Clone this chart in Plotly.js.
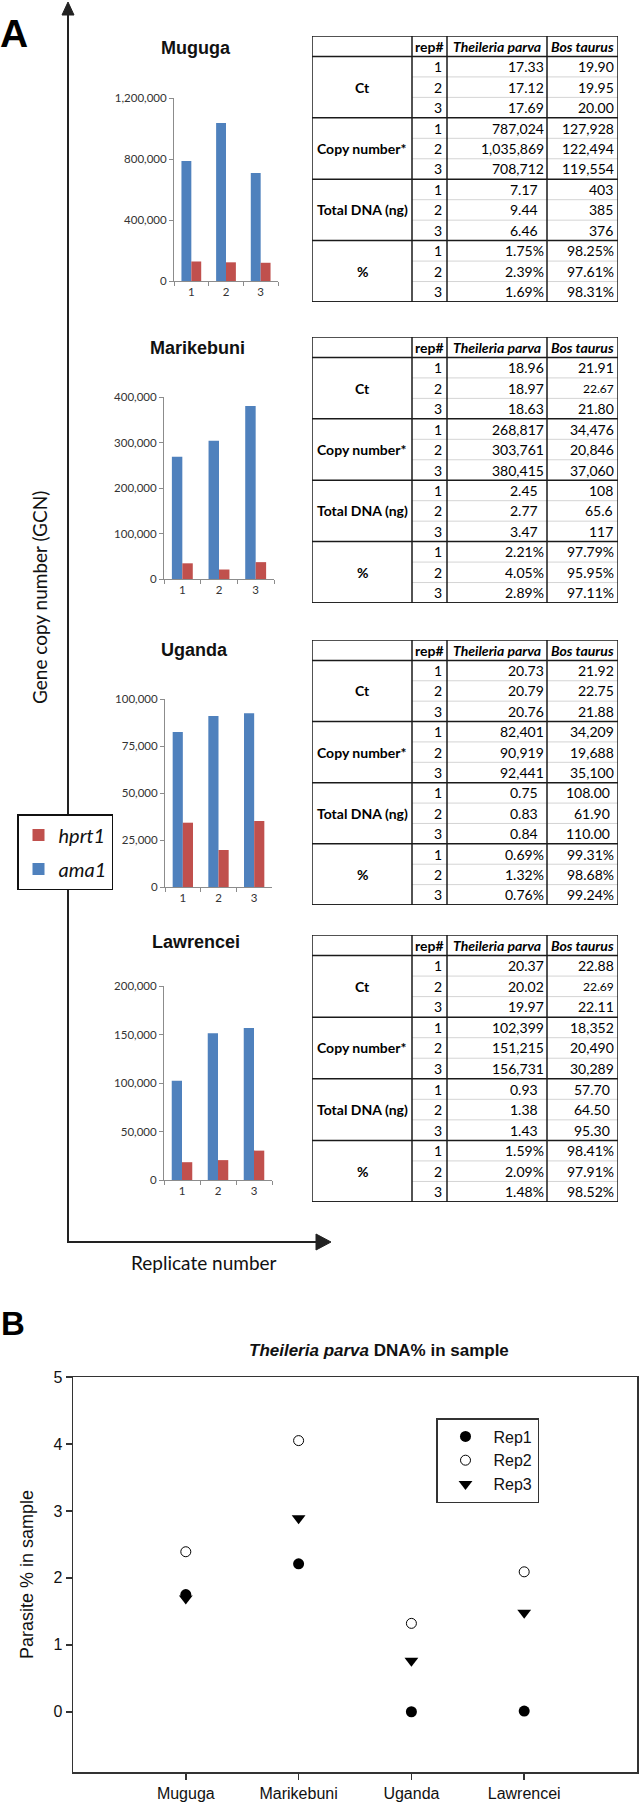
<!DOCTYPE html>
<html><head><meta charset="utf-8">
<script src="https://cdn.plot.ly/plotly-3.0.1.min.js"></script>
<style>html,body{margin:0;padding:0;background:#fff}#chart{width:639px;height:1803px}</style>
</head><body><div id="chart"></div>
<script>
// ---------------- DATA ----------------
const sites = ['Muguga', 'Marikebuni', 'Uganda', 'Lawrencei'];
const replicates = ['1', '2', '3'];

const ama1Muguga = [787024, 1035869, 708712];
const hprt1Muguga = [127928, 122494, 119554];
const ama1Marikebuni = [268817, 303761, 380415];
const hprt1Marikebuni = [34476, 20846, 37060];
const ama1Uganda = [82401, 90919, 92441];
const hprt1Uganda = [34209, 19688, 35100];
const ama1Lawrencei = [102399, 151215, 156731];
const hprt1Lawrencei = [18352, 20490, 30289];

const yTicksMuguga = [0, 400000, 800000, 1200000];
const yTicksMarikebuni = [0, 100000, 200000, 300000, 400000];
const yTicksUganda = [0, 25000, 50000, 75000, 100000];
const yTicksLawrencei = [0, 50000, 100000, 150000, 200000];

const tableGroups = ['Ct', 'Copy number*', 'Total DNA (ng)', '%'];
const tableHeader = ['rep#', '<i>Theileria parva</i>', '<i>Bos taurus</i>'];

const ctTpMuguga = ['17.33', '17.12', '17.69'];
const ctBtMuguga = ['19.90', '19.95', '20.00'];
const dnaTpMuguga = ['7.17', '9.44', '6.46'];
const dnaBtMuguga = ['403', '385', '376'];
const pctTpMuguga = ['1.75%', '2.39%', '1.69%'];
const pctBtMuguga = ['98.25%', '97.61%', '98.31%'];

const ctTpMarikebuni = ['18.96', '18.97', '18.63'];
const ctBtMarikebuni = ['21.91', '22.67', '21.80'];
const dnaTpMarikebuni = ['2.45', '2.77', '3.47'];
const dnaBtMarikebuni = ['108', '65.6', '117'];
const pctTpMarikebuni = ['2.21%', '4.05%', '2.89%'];
const pctBtMarikebuni = ['97.79%', '95.95%', '97.11%'];

const ctTpUganda = ['20.73', '20.79', '20.76'];
const ctBtUganda = ['21.92', '22.75', '21.88'];
const dnaTpUganda = ['0.75', '0.83', '0.84'];
const dnaBtUganda = ['108.00', '61.90', '110.00'];
const pctTpUganda = ['0.69%', '1.32%', '0.76%'];
const pctBtUganda = ['99.31%', '98.68%', '99.24%'];

const ctTpLawrencei = ['20.37', '20.02', '19.97'];
const ctBtLawrencei = ['22.88', '22.69', '22.11'];
const dnaTpLawrencei = ['0.93', '1.38', '1.43'];
const dnaBtLawrencei = ['57.70', '64.50', '95.30'];
const pctTpLawrencei = ['1.59%', '2.09%', '1.48%'];
const pctBtLawrencei = ['98.41%', '97.91%', '98.52%'];

// Panel B (values as plotted)
const rep1Pct = [1.75, 2.21, 0.0, 0.01];
const rep2Pct = [2.39, 4.05, 1.32, 2.09];
const rep3Pct = [1.69, 2.89, 0.76, 1.48];
const bTicks = [0, 1, 2, 3, 4, 5];

// ---------------- LAYOUT HELPERS ----------------
const W = 639, H = 1803;
const fx = p => p / W;
const fy = p => 1 - p / H;
const FONT_CAL = 'Lato, "Open Sans", sans-serif';
const FONT_ARIAL = '"Liberation Sans", Arial, sans-serif';
const BLUE = '#4F81BD', RED = '#C0504D';
const fmtInt = n => n.toLocaleString('en-US');

const traces = [];
const layout = {
  width: W, height: H,
  margin: {l: 0, r: 0, t: 0, b: 0},
  paper_bgcolor: '#ffffff', plot_bgcolor: 'rgba(0,0,0,0)',
  barmode: 'group', bargap: 0.43, bargroupgap: 0,
  font: {family: FONT_ARIAL, color: '#000'},
  annotations: [], shapes: [],
  showlegend: true,
  legend: {
    x: fx(436), y: fy(1418), xanchor: 'left', yanchor: 'top',
    bordercolor: '#333', borderwidth: 1.5, bgcolor: '#fff',
    font: {family: FONT_ARIAL, size: 16, color: '#111'},
    itemwidth: 46, tracegroupgap: 0
  },
  legend2: {
    x: fx(17), y: fy(814), xanchor: 'left', yanchor: 'top',
    bordercolor: '#111', borderwidth: 1.5, bgcolor: '#fff',
    font: {family: FONT_CAL, size: 20, color: '#111'},
    traceorder: 'grouped', tracegroupgap: 5, itemwidth: 30
  }
};

function ann(o) {
  layout.annotations.push(Object.assign({showarrow: false, xref: 'paper', yref: 'paper'}, o));
}

// ---------------- PANEL A: bar charts ----------------
const barPanels = [
  {title: sites[0], ama: ama1Muguga, hprt: hprt1Muguga, ticks: yTicksMuguga, left: 174, right: 278, top: 98, bottom: 281, tx: 196, ty: 48},
  {title: sites[1], ama: ama1Marikebuni, hprt: hprt1Marikebuni, ticks: yTicksMarikebuni, left: 164, right: 274, top: 397, bottom: 579, tx: 197, ty: 348},
  {title: sites[2], ama: ama1Uganda, hprt: hprt1Uganda, ticks: yTicksUganda, left: 165, right: 272, top: 699, bottom: 887, tx: 194, ty: 650},
  {title: sites[3], ama: ama1Lawrencei, hprt: hprt1Lawrencei, ticks: yTicksLawrencei, left: 164, right: 272, top: 986, bottom: 1180, tx: 196, ty: 942}
];

barPanels.forEach((p, i) => {
  const s = i === 0 ? '' : String(i + 1);
  traces.push({type: 'bar', x: replicates, y: p.ama, xaxis: 'x' + s, yaxis: 'y' + s,
    name: '<i>ama1</i>', marker: {color: BLUE}, legend: 'legend2', legendgroup: 'ama1', legendrank: 2,
    showlegend: i === 0, hoverinfo: 'skip'});
  traces.push({type: 'bar', x: replicates, y: p.hprt, xaxis: 'x' + s, yaxis: 'y' + s,
    name: '<i>hprt1</i>', marker: {color: RED}, legend: 'legend2', legendgroup: 'hprt1', legendrank: 1,
    showlegend: i === 0, hoverinfo: 'skip'});
  layout['xaxis' + s] = {
    domain: [fx(p.left), fx(p.right)], anchor: 'y' + s, type: 'category', range: [-0.5, 2.5],
    showline: true, linecolor: '#8c8c8c', linewidth: 1, ticks: 'outside', tickson: 'boundaries',
    ticklen: 4, tickcolor: '#8c8c8c', tickfont: {family: FONT_CAL, size: 11.5, color: '#333'},
    showgrid: false, zeroline: false, fixedrange: true
  };
  layout['yaxis' + s] = {
    domain: [fy(p.bottom), fy(p.top)], anchor: 'x' + s, range: [0, p.ticks[p.ticks.length - 1]],
    tickvals: p.ticks, tickformat: ',d', showline: true, linecolor: '#8c8c8c', linewidth: 1,
    ticks: 'outside', ticklen: 4, tickcolor: '#8c8c8c',
    tickfont: {family: FONT_CAL, size: 11.5, color: '#333'},
    showgrid: false, zeroline: false, fixedrange: true
  };
  ann({text: '<b>' + p.title + '</b>', x: fx(p.tx), y: fy(p.ty), xanchor: 'center', yanchor: 'middle',
    font: {family: FONT_ARIAL, size: 18, color: '#111'}});
});

// ---------------- PANEL A: tables ----------------
// smallBt: Bos taurus cells (group index, replicate index) printed in a smaller type in the original
const tableSpecs = [
  {top: 36, bottom: 302, groups: [[ctTpMuguga, ctBtMuguga], [ama1Muguga.map(fmtInt), hprt1Muguga.map(fmtInt)], [dnaTpMuguga, dnaBtMuguga], [pctTpMuguga, pctBtMuguga]], dnaPadBt: 3, smallBt: []},
  {top: 337, bottom: 603, groups: [[ctTpMarikebuni, ctBtMarikebuni], [ama1Marikebuni.map(fmtInt), hprt1Marikebuni.map(fmtInt)], [dnaTpMarikebuni, dnaBtMarikebuni], [pctTpMarikebuni, pctBtMarikebuni]], dnaPadBt: 3, smallBt: ['0-1']},
  {top: 640, bottom: 905, groups: [[ctTpUganda, ctBtUganda], [ama1Uganda.map(fmtInt), hprt1Uganda.map(fmtInt)], [dnaTpUganda, dnaBtUganda], [pctTpUganda, pctBtUganda]], dnaPadBt: 6, smallBt: []},
  {top: 935, bottom: 1202, groups: [[ctTpLawrencei, ctBtLawrencei], [ama1Lawrencei.map(fmtInt), hprt1Lawrencei.map(fmtInt)], [dnaTpLawrencei, dnaBtLawrencei], [pctTpLawrencei, pctBtLawrencei]], dnaPadBt: 6, smallBt: ['0-1']}
];
const colEdges = [0, 100, 135, 235, 306];
const TABLE_LEFT = 312, TABLE_RIGHT = 618;
const nRows = 1 + tableGroups.length * replicates.length;

tableSpecs.forEach((t, k) => {
  const n = String(5 + k);
  const xr = 'x' + n, yr = 'y' + n;
  layout['xaxis' + n] = {domain: [fx(TABLE_LEFT), fx(TABLE_RIGHT)], range: [0, colEdges[4]], visible: false, anchor: yr, fixedrange: true};
  layout['yaxis' + n] = {domain: [fy(t.bottom), fy(t.top)], range: [nRows, 0], visible: false, anchor: xr, fixedrange: true};
  for (let r = 1; r < nRows; r++) {
    if ((r - 1) % 3 !== 0) {
      layout.shapes.push({type: 'line', xref: xr, yref: yr, x0: colEdges[1], x1: colEdges[4], y0: r, y1: r,
        line: {color: '#d4d4d4', width: 1}});
    }
  }
  for (let g = 0; g <= tableGroups.length; g++) {
    const r = 1 + g * 3;
    layout.shapes.push({type: 'line', xref: xr, yref: yr, x0: 0, x1: colEdges[4], y0: r, y1: r,
      line: {color: '#1a1a1a', width: 1.5}});
  }
  for (let c = 1; c < 4; c++) {
    layout.shapes.push({type: 'line', xref: xr, yref: yr, x0: colEdges[c], x1: colEdges[c], y0: 0, y1: nRows,
      line: {color: '#1a1a1a', width: 1.5}});
  }
  layout.shapes.push({type: 'rect', xref: xr, yref: yr, x0: 0, x1: colEdges[4], y0: 0, y1: nRows,
    line: {color: '#1a1a1a', width: 1.5}});
  tableHeader.forEach((h, c) => {
    layout.annotations.push({xref: xr, yref: yr, x: (colEdges[c + 1] + colEdges[c + 2]) / 2, y: 0.5,
      text: '<b>' + h + '</b>', showarrow: false, xanchor: 'center', yanchor: 'middle',
      font: {family: FONT_CAL, size: 14, color: '#000'}});
  });
  tableGroups.forEach((g, gi) => {
    layout.annotations.push({xref: xr, yref: yr, x: colEdges[1] / 2, y: 1 + gi * 3 + 1.5,
      text: '<b>' + g + '</b>', showarrow: false, xanchor: 'center', yanchor: 'middle',
      font: {family: FONT_CAL, size: 14, color: '#000'}});
    replicates.forEach((rep, ri) => {
      const y = 1 + gi * 3 + ri + 0.5;
      layout.annotations.push({xref: xr, yref: yr, x: colEdges[2] - 3, y: y, text: rep,
        showarrow: false, xanchor: 'right', yanchor: 'middle', font: {family: FONT_CAL, size: 14, color: '#000'}});
      const padTp = gi === 2 ? 7 : 1.5;
      const padBt = gi === 2 ? t.dnaPadBt : 2;
      const btSize = t.smallBt.includes(gi + '-' + ri) ? 12 : 14;
      layout.annotations.push({xref: xr, yref: yr, x: colEdges[3] - padTp, y: y, text: t.groups[gi][0][ri],
        showarrow: false, xanchor: 'right', yanchor: 'middle', font: {family: FONT_CAL, size: 14, color: '#000'}});
      layout.annotations.push({xref: xr, yref: yr, x: colEdges[4] - padBt, y: y, text: t.groups[gi][1][ri],
        showarrow: false, xanchor: 'right', yanchor: 'middle', font: {family: FONT_CAL, size: btSize, color: '#000'}});
    });
  });
});

// ---------------- PANEL A: frame arrows & labels ----------------
const AX = 68, AY = 1242, ATOP = 2, ARIGHT = 331;
layout.shapes.push({type: 'line', xref: 'paper', yref: 'paper', x0: fx(AX), x1: fx(AX), y0: fy(ATOP + 12), y1: fy(AY),
  line: {color: '#222', width: 2}});
layout.shapes.push({type: 'line', xref: 'paper', yref: 'paper', x0: fx(AX - 1), x1: fx(ARIGHT - 14), y0: fy(AY), y1: fy(AY),
  line: {color: '#222', width: 2}});
layout.shapes.push({type: 'path', xref: 'paper', yref: 'paper',
  path: `M ${fx(AX - 6)} ${fy(ATOP + 13)} L ${fx(AX)} ${fy(ATOP)} L ${fx(AX + 6)} ${fy(ATOP + 13)} Z`,
  fillcolor: '#222', line: {color: '#222', width: 1}});
layout.shapes.push({type: 'path', xref: 'paper', yref: 'paper',
  path: `M ${fx(ARIGHT - 15)} ${fy(AY - 8)} L ${fx(ARIGHT)} ${fy(AY)} L ${fx(ARIGHT - 15)} ${fy(AY + 8)} Z`,
  fillcolor: '#222', line: {color: '#222', width: 1}});

ann({text: '<b>A</b>', x: fx(14), y: fy(34), xanchor: 'center', yanchor: 'middle',
  font: {family: FONT_ARIAL, size: 39, color: '#000'}});
ann({text: 'Gene copy number (GCN)', x: fx(40), y: fy(598), xanchor: 'center', yanchor: 'middle', textangle: -90,
  font: {family: FONT_CAL, size: 19, color: '#111'}});
ann({text: 'Replicate number', x: fx(204), y: fy(1262), xanchor: 'center', yanchor: 'middle',
  font: {family: FONT_CAL, size: 19, color: '#111'}});

// ---------------- PANEL B: scatter ----------------
traces.push({type: 'scatter', mode: 'markers', x: sites, y: rep1Pct, xaxis: 'x9', yaxis: 'y9', name: 'Rep1',
  marker: {symbol: 'circle', size: 11, color: '#000'}, legend: 'legend', hoverinfo: 'skip'});
traces.push({type: 'scatter', mode: 'markers', x: sites, y: rep2Pct, xaxis: 'x9', yaxis: 'y9', name: 'Rep2',
  marker: {symbol: 'circle-open', size: 10, color: '#000', line: {width: 1}}, legend: 'legend', hoverinfo: 'skip'});
traces.push({type: 'scatter', mode: 'markers', x: sites, y: rep3Pct, xaxis: 'x9', yaxis: 'y9', name: 'Rep3',
  marker: {symbol: 'triangle-down', size: 12, color: '#000'}, legend: 'legend', hoverinfo: 'skip'});

layout.xaxis9 = {
  domain: [fx(73), fx(637)], anchor: 'y9', type: 'category', range: [-1, sites.length],
  showline: true, mirror: true, linecolor: '#333', linewidth: 1.5,
  ticks: 'outside', ticklen: 6, tickwidth: 1.5, tickcolor: '#333',
  tickfont: {family: FONT_ARIAL, size: 16, color: '#111'},
  showgrid: false, zeroline: false, fixedrange: true
};
layout.yaxis9 = {
  domain: [fy(1772), fy(1377)], anchor: 'x9', range: [-0.9, 5], tickvals: bTicks,
  showline: true, mirror: true, linecolor: '#333', linewidth: 1.5,
  ticks: 'outside', ticklen: 6, tickwidth: 1.5, tickcolor: '#333',
  tickfont: {family: FONT_ARIAL, size: 16, color: '#111'},
  showgrid: false, zeroline: false, fixedrange: true
};

ann({text: '<b>B</b>', x: fx(13), y: fy(1323), xanchor: 'center', yanchor: 'middle',
  font: {family: FONT_ARIAL, size: 33, color: '#000'}});
ann({text: '<b><i>Theileria parva</i> DNA% in sample</b>', x: fx(379), y: fy(1350), xanchor: 'center', yanchor: 'middle',
  font: {family: FONT_ARIAL, size: 17, color: '#111'}});
ann({text: 'Parasite % in sample', x: fx(27), y: fy(1575), xanchor: 'center', yanchor: 'middle', textangle: -90,
  font: {family: FONT_ARIAL, size: 18, color: '#111'}});

Plotly.newPlot('chart', traces, layout, {displayModeBar: false, staticPlot: true});
</script>
</body></html>
